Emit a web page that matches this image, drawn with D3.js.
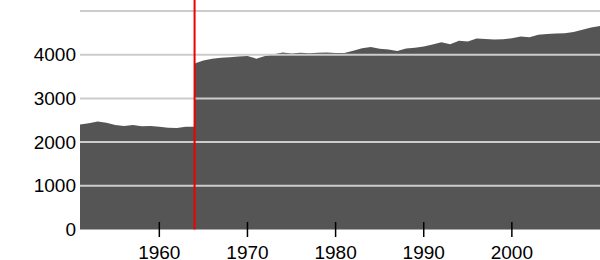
<!DOCTYPE html>
<html>
<head>
<meta charset="utf-8">
<script src="https://cdn.jsdelivr.net/npm/d3@7"></script>
<style>
  body { margin: 0; background: #fff; }
  svg { display: block; }
  text { font-family: "Liberation Sans", Arial, sans-serif; fill: #000; }
</style>
</head>
<body>
<div id="chart"></div>
<script>
// 年份与数值（1964 出现两次：断点处垂直跳升）
const years = [1951, 1952, 1953, 1954, 1955, 1956, 1957, 1958, 1959, 1960,
  1961, 1962, 1963, 1964, 1964, 1965, 1966, 1967, 1968, 1969, 1970,
  1971, 1972, 1973, 1974, 1975, 1976, 1977, 1978, 1979, 1980,
  1981, 1982, 1983, 1984, 1985, 1986, 1987, 1988, 1989, 1990,
  1991, 1992, 1993, 1994, 1995, 1996, 1997, 1998, 1999, 2000,
  2001, 2002, 2003, 2004, 2005, 2006, 2007, 2008, 2009, 2010];
const values = [2400, 2430, 2470, 2440, 2390, 2370, 2390, 2360, 2370, 2350,
  2330, 2320, 2350, 2350, 3800, 3870, 3910, 3930, 3940, 3960, 3970,
  3910, 3970, 4010, 4050, 4030, 4045, 4035, 4045, 4050, 4040,
  4040, 4090, 4150, 4175, 4135, 4120, 4085, 4140, 4160, 4190,
  4235, 4285, 4240, 4320, 4300, 4370, 4360, 4350, 4355, 4375,
  4415, 4400, 4455, 4475, 4485, 4490, 4520, 4570, 4620, 4655];
const gridValues = [1000, 2000, 3000, 4000, 5000];
const yTickValues = [0, 1000, 2000, 3000, 4000];
const xTickValues = [1960, 1970, 1980, 1990, 2000];
const breakYear = 1964;

const width = 600, height = 260;

const svg = d3.select('#chart').append('svg')
  .attr('width', width)
  .attr('height', height);

const x = d3.scaleLinear().domain([1951, 2010]).range([80, 600]);
const y = d3.scaleLinear().domain([0, 5000]).range([229.5, 11]);

const data = years.map((yr, i) => ({ year: yr, value: values[i] }));

// 面积
svg.append('path')
  .datum(data)
  .attr('fill', '#555555')
  .attr('d', d3.area()
    .x(d => x(d.year))
    .y0(y(0))
    .y1(d => y(d.value)));

// 网格线（画在面积上面）
svg.selectAll('.grid')
  .data(gridValues)
  .enter()
  .append('line')
  .attr('class', 'grid')
  .attr('x1', 80)
  .attr('x2', 600)
  .attr('y1', d => y(d))
  .attr('y2', d => y(d))
  .attr('stroke', '#cccccc')
  .attr('stroke-width', 2);

// 红色断点线
svg.append('line')
  .attr('x1', x(breakYear))
  .attr('x2', x(breakYear))
  .attr('y1', 0)
  .attr('y2', y(0))
  .attr('stroke', '#ee0000')
  .attr('stroke-width', 2);

// y 轴标签
svg.selectAll('.ylabel')
  .data(yTickValues)
  .enter()
  .append('text')
  .attr('class', 'ylabel')
  .attr('x', 76)
  .attr('y', d => y(d))
  .attr('dy', '0.35em')
  .attr('text-anchor', 'end')
  .style('font-size', '19px')
  .text(d => d);

// x 轴刻度
svg.selectAll('.xtick')
  .data(xTickValues)
  .enter()
  .append('line')
  .attr('class', 'xtick')
  .attr('x1', d => x(d))
  .attr('x2', d => x(d))
  .attr('y1', 222)
  .attr('y2', 237)
  .attr('stroke', '#000')
  .attr('stroke-width', 1.5);

svg.selectAll('.xlabel')
  .data(xTickValues)
  .enter()
  .append('text')
  .attr('class', 'xlabel')
  .attr('x', d => x(d))
  .attr('y', 258.5)
  .attr('text-anchor', 'middle')
  .style('font-size', '19px')
  .text(d => d);
</script>
</body>
</html>
